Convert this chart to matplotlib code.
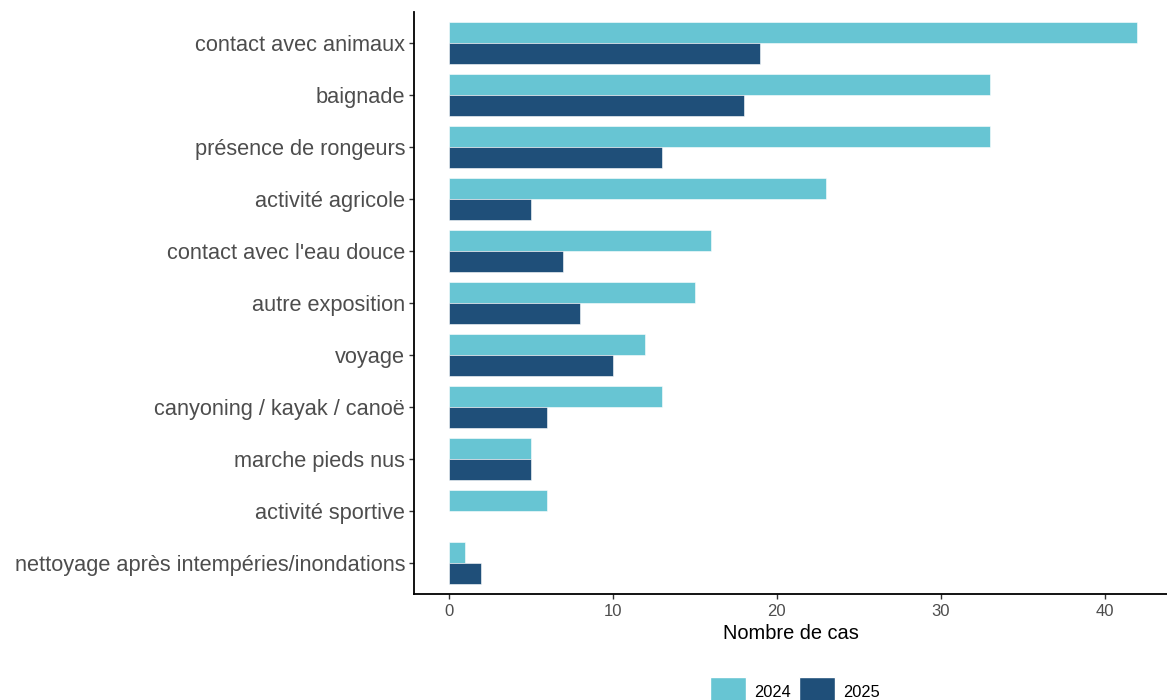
import matplotlib
matplotlib.use("Agg")
import matplotlib.pyplot as plt
import numpy as np
from matplotlib.patches import Patch

plt.rcParams['font.family'] = ['Liberation Sans', 'DejaVu Sans']

categories = ["contact avec animaux", "baignade", "présence de rongeurs", "activité agricole",
              "contact avec l'eau douce", "autre exposition", "voyage",
              "canyoning / kayak / canoë", "marche pieds nus", "activité sportive",
              "nettoyage après intempéries/inondations"]
v2024 = [42, 33, 33, 23, 16, 15, 12, 13, 5, 6, 1]
v2025 = [19, 18, 13, 5, 7, 8, 10, 6, 5, 0, 2]
years = ["2024", "2025"]
colors = ["#67C5D3", "#1F4F79"]

fig = plt.figure(figsize=(11.67, 7.0), dpi=100)
ax = fig.add_axes([0.3548, 0.1514, 0.6452, 0.8315])

n = len(categories)
y = np.arange(n)[::-1]
h = 0.4
ax.barh(y + h/2, v2024, height=h, color=colors[0], edgecolor='white', linewidth=0.4)
ax.barh(y - h/2, v2025, height=h, color=colors[1], edgecolor='white', linewidth=0.4)

ax.set_yticks(y)
ax.set_yticklabels(categories, fontsize=15.7, color='#4D4D4D')
ax.set_ylim(-0.6, n - 0.4)
ax.set_xlim(-2.1, 43.8)
ax.set_xticks([0, 10, 20, 30, 40])
ax.tick_params(axis='x', labelsize=12, labelcolor='#4D4D4D', length=3.5, width=1, color='#333333', pad=4)
ax.tick_params(axis='y', length=3.5, width=1, color='#333333', pad=3)
for s in ['top', 'right']:
    ax.spines[s].set_visible(False)
for s in ['left', 'bottom']:
    ax.spines[s].set_linewidth(1.3)
    ax.spines[s].set_color('black')
ax.set_xlabel("Nombre de cas", fontsize=14.4, color='black', labelpad=3)

handles = [Patch(facecolor=c, edgecolor='white', label=l) for c, l in zip(colors, years)]
fig.legend(handles=handles, loc='center', bbox_to_anchor=(795/1167, 1 - 692/700), ncol=2,
           frameon=False, fontsize=11.8, handlelength=2.2, handleheight=2.4,
           handletextpad=0.5, columnspacing=0.5)

fig.savefig("out.png", dpi=100)
